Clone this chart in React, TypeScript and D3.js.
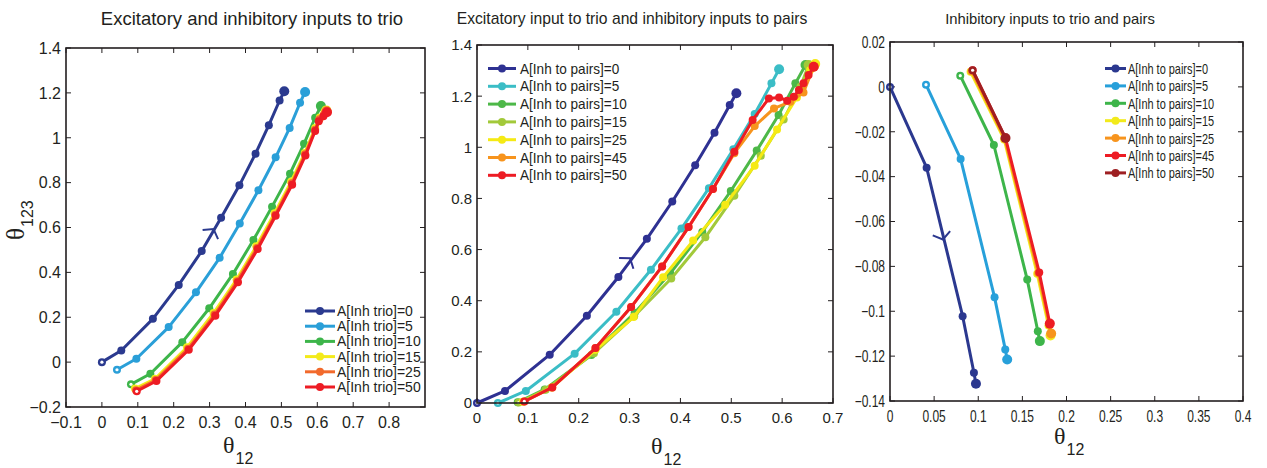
import React from 'react';
import * as d3 from 'd3';

type Pt = [number, number];

// ---------- Panel 1: Excitatory and inhibitory inputs to trio ----------
const p1Inh0: Pt[] = [[0, 0], [0.054, 0.052], [0.142, 0.193], [0.214, 0.344], [0.278, 0.495], [0.332, 0.643], [0.383, 0.788], [0.428, 0.929], [0.465, 1.056], [0.495, 1.166], [0.508, 1.207]];
const p1Inh5: Pt[] = [[0.042, -0.034], [0.096, 0.015], [0.186, 0.156], [0.262, 0.311], [0.328, 0.465], [0.384, 0.618], [0.436, 0.766], [0.484, 0.913], [0.523, 1.044], [0.552, 1.156], [0.566, 1.204]];
const p1Inh10: Pt[] = [[0.081, -0.099], [0.135, -0.052], [0.224, 0.089], [0.299, 0.24], [0.365, 0.393], [0.422, 0.544], [0.474, 0.693], [0.524, 0.84], [0.563, 0.973], [0.594, 1.089], [0.61, 1.141]];
const p1Inh15: Pt[] = [[0.092, -0.118], [0.148, -0.074], [0.237, 0.066], [0.311, 0.219], [0.375, 0.368], [0.43, 0.516], [0.481, 0.664], [0.527, 0.804], [0.565, 0.932], [0.594, 1.044], [0.607, 1.09], [0.62, 1.115], [0.625, 1.122]];
const p1Inh25: Pt[] = [[0.095, -0.125], [0.15, -0.08], [0.24, 0.06], [0.314, 0.212], [0.377, 0.361], [0.432, 0.509], [0.483, 0.657], [0.529, 0.797], [0.566, 0.926], [0.594, 1.036], [0.606, 1.082], [0.619, 1.105], [0.626, 1.118]];
const p1Inh50: Pt[] = [[0.097, -0.13], [0.152, -0.084], [0.242, 0.055], [0.316, 0.207], [0.379, 0.356], [0.434, 0.504], [0.484, 0.652], [0.53, 0.791], [0.567, 0.921], [0.594, 1.03], [0.604, 1.074], [0.617, 1.096], [0.627, 1.114]];
const p1Labels = ['A[Inh trio]=0', 'A[Inh trio]=5', 'A[Inh trio]=10', 'A[Inh trio]=15', 'A[Inh trio]=25', 'A[Inh trio]=50'];
const p1Colors = ['#2b3a8f', '#2a9fd8', '#3db54a', '#f3ea1a', '#f26a2c', '#ed1c24'];
const p1XTicks = [-0.1, 0, 0.1, 0.2, 0.3, 0.4, 0.5, 0.6, 0.7, 0.8];
const p1YTicks = [-0.2, 0, 0.2, 0.4, 0.6, 0.8, 1, 1.2, 1.4];
const p1Arrow: Pt = [0.311, 0.593];

// ---------- Panel 2: Excitatory input to trio and inhibitory inputs to pairs ----------
const p2Inh0: Pt[] = [[0, 0], [0.055, 0.047], [0.143, 0.189], [0.216, 0.341], [0.278, 0.493], [0.334, 0.642], [0.384, 0.788], [0.429, 0.93], [0.467, 1.057], [0.497, 1.165], [0.51, 1.211]];
const p2Inh5: Pt[] = [[0.041, 0], [0.096, 0.047], [0.192, 0.193], [0.274, 0.357], [0.342, 0.521], [0.402, 0.682], [0.456, 0.84], [0.504, 0.992], [0.546, 1.13], [0.579, 1.25], [0.594, 1.305]];
const p2Inh10: Pt[] = [[0.08, 0.003], [0.133, 0.053], [0.225, 0.188], [0.31, 0.353], [0.38, 0.507], [0.443, 0.669], [0.499, 0.829], [0.55, 0.987], [0.593, 1.126], [0.626, 1.25], [0.646, 1.322]];
const p2Inh15: Pt[] = [[0.082, 0.002], [0.135, 0.052], [0.23, 0.195], [0.309, 0.339], [0.382, 0.487], [0.449, 0.648], [0.506, 0.81], [0.558, 0.967], [0.603, 1.109], [0.636, 1.237], [0.652, 1.322]];
const p2Inh25: Pt[] = [[0.09, 0.005], [0.147, 0.061], [0.233, 0.208], [0.308, 0.336], [0.366, 0.492], [0.425, 0.635], [0.488, 0.775], [0.546, 0.928], [0.59, 1.07], [0.629, 1.195], [0.655, 1.302], [0.665, 1.326]];
const p2Inh45: Pt[] = [[0.093, 0.006], [0.148, 0.061], [0.233, 0.215], [0.303, 0.375], [0.364, 0.534], [0.416, 0.688], [0.464, 0.837], [0.506, 0.977], [0.546, 1.083], [0.584, 1.152], [0.616, 1.178], [0.642, 1.214], [0.662, 1.315]];
const p2Inh50: Pt[] = [[0.093, 0.006], [0.148, 0.061], [0.233, 0.215], [0.303, 0.375], [0.364, 0.534], [0.416, 0.688], [0.464, 0.837], [0.506, 0.983], [0.542, 1.107], [0.574, 1.191], [0.594, 1.195], [0.61, 1.182], [0.623, 1.198], [0.633, 1.224], [0.642, 1.25], [0.652, 1.283], [0.662, 1.315]];
const p2Labels = ['A[Inh to pairs]=0', 'A[Inh to pairs]=5', 'A[Inh to pairs]=10', 'A[Inh to pairs]=15', 'A[Inh to pairs]=25', 'A[Inh to pairs]=45', 'A[Inh to pairs]=50'];
const p2Colors = ['#2e3192', '#3bbdc6', '#4db848', '#a2c93a', '#f5ea14', '#f7941d', '#ed1c24'];
const p2XTicks = [0, 0.1, 0.2, 0.3, 0.4, 0.5, 0.6, 0.7];
const p2YTicks = [0, 0.2, 0.4, 0.6, 0.8, 1, 1.2, 1.4];
const p2Arrow: Pt = [0.301, 0.566];

// ---------- Panel 3: Inhibitory inputs to trio and pairs ----------
const p3Inh0: Pt[] = [[0, 0], [0.0415, -0.036], [0.0823, -0.1022], [0.0951, -0.1274], [0.0974, -0.1323]];
const p3Inh5: Pt[] = [[0.0408, 0.001], [0.08, -0.0321], [0.1185, -0.0938], [0.1306, -0.117], [0.1328, -0.1215]];
const p3Inh10: Pt[] = [[0.0796, 0.005], [0.1177, -0.0259], [0.1555, -0.0859], [0.1675, -0.1089], [0.1698, -0.1133]];
const p3Inh15: Pt[] = [[0.0913, 0.0067], [0.1294, -0.0234], [0.1668, -0.0833], [0.1796, -0.1064], [0.1819, -0.1108]];
const p3Inh25: Pt[] = [[0.0925, 0.007], [0.13, -0.0231], [0.168, -0.083], [0.1805, -0.106], [0.1826, -0.1099]];
const p3Inh45: Pt[] = [[0.0936, 0.0074], [0.1309, -0.0228], [0.1691, -0.0827], [0.1811, -0.1055]];
const p3Inh50: Pt[] = [[0.0936, 0.0074], [0.1309, -0.0228]];
const p3Labels = ['A[Inh to pairs]=0', 'A[Inh to pairs]=5', 'A[Inh to pairs]=10', 'A[Inh to pairs]=15', 'A[Inh to pairs]=25', 'A[Inh to pairs]=45', 'A[Inh to pairs]=50'];
const p3Colors = ['#2b388f', '#27a0da', '#3db54a', '#f2ea1b', '#f7941d', '#ed1c24', '#9e1f22'];
const p3XTicks = [0, 0.05, 0.1, 0.15, 0.2, 0.25, 0.3, 0.35, 0.4];
const p3YTicks = [-0.14, -0.12, -0.1, -0.08, -0.06, -0.04, -0.02, 0, 0.02];
const p3Arrow: Pt = [0.06, -0.068];

const FONT = "'Liberation Sans', Arial, Helvetica, sans-serif";
const SERIF = "'Liberation Serif', 'Times New Roman', serif";

const fmt = (v: number) => {
  const s = String(+v.toFixed(3));
  return s.startsWith('-') ? '\u2212' + s.slice(1) : s;
};

interface PanelCfg {
  left: number; top: number; right: number; bottom: number;
  xDomain: [number, number]; yDomain: [number, number];
  xTicks: number[]; yTicks: number[];
  series: Pt[][]; colors: string[]; labels: string[];
  title: string; titleX: number; titleY: number; titleSize: number;
  xLabelX: number; xLabelY: number;
  yLabel?: boolean;
  legend: { lineX0: number; lineX1: number; textX: number; y0: number; dy: number; size: number; squeeze: number };
  tickSqueeze: number;
  tickSize: number;
  arrow: Pt; arrowSeriesIdx: number;
}

const SText: React.FC<{ x: number; y: number; sq: number; size: number; anchor?: string; children: any }> = ({ x, y, sq, size, anchor, children }) => (
  <text transform={`translate(${x},${y}) scale(${sq},1)`} fontSize={size} fontFamily={FONT} textAnchor={anchor || 'start'} fill="#231f20">{children}</text>
);

function Panel({ c }: { c: PanelCfg }) {
  const xs = d3.scaleLinear().domain(c.xDomain).range([c.left, c.right]);
  const ys = d3.scaleLinear().domain(c.yDomain).range([c.bottom, c.top]);
  const line = d3.line<Pt>().x(d => xs(d[0])).y(d => ys(d[1]));
  const tl = 5;

  const s = c.series[c.arrowSeriesIdx];
  let best = 0; let bd = Infinity;
  for (let i = 0; i < s.length - 1; i++) {
    const mx = (xs(s[i][0]) + xs(s[i + 1][0])) / 2, my = (ys(s[i][1]) + ys(s[i + 1][1])) / 2;
    const d = Math.hypot(mx - xs(c.arrow[0]), my - ys(c.arrow[1]));
    if (d < bd) { bd = d; best = i; }
  }
  const dx = xs(s[best + 1][0]) - xs(s[best][0]);
  const dy = ys(s[best + 1][1]) - ys(s[best][1]);
  const ang = Math.atan2(dy, dx);
  const ax = xs(c.arrow[0]), ay = ys(c.arrow[1]);
  const L = 11, spread = 0.95;
  const a1 = [ax - L * Math.cos(ang - spread), ay - L * Math.sin(ang - spread)];
  const a2 = [ax - L * Math.cos(ang + spread), ay - L * Math.sin(ang + spread)];

  const lg = c.legend;
  return (
    <g>
      <text x={c.titleX} y={c.titleY} fontSize={c.titleSize} fontFamily={FONT} textAnchor="middle" fill="#231f20">{c.title}</text>
      <rect x={c.left} y={c.top} width={c.right - c.left} height={c.bottom - c.top} fill="white" stroke="none" />
      {c.xTicks.map((t, i) => (
        <g key={'xt' + i}>
          <line x1={xs(t)} x2={xs(t)} y1={c.bottom} y2={c.bottom - tl} stroke="#231f20" strokeWidth={1} />
          <line x1={xs(t)} x2={xs(t)} y1={c.top} y2={c.top + tl} stroke="#231f20" strokeWidth={1} />
          <SText x={xs(t)} y={c.bottom + 5 + c.tickSize} sq={c.tickSqueeze} size={c.tickSize} anchor="middle">{fmt(t)}</SText>
        </g>
      ))}
      {c.yTicks.map((t, i) => (
        <g key={'yt' + i}>
          <line x1={c.left} x2={c.left + tl} y1={ys(t)} y2={ys(t)} stroke="#231f20" strokeWidth={1} />
          <line x1={c.right} x2={c.right - tl} y1={ys(t)} y2={ys(t)} stroke="#231f20" strokeWidth={1} />
          <SText x={c.left - 5} y={ys(t) + c.tickSize * 0.36} sq={c.tickSqueeze} size={c.tickSize} anchor="end">{fmt(t)}</SText>
        </g>
      ))}
      {c.series.map((pts, i) => (
        <g key={'s' + i}>
          <path d={line(pts) || ''} fill="none" stroke={c.colors[i]} strokeWidth={3} strokeLinejoin="round" strokeLinecap="round" />
          {pts.map((p, j) => (
            <circle key={j} cx={xs(p[0])} cy={ys(p[1])} r={j === pts.length - 1 ? 5 : 4} fill={c.colors[i]} />
          ))}
          <circle cx={xs(pts[0][0])} cy={ys(pts[0][1])} r={1.6} fill="white" />
        </g>
      ))}
      <polyline points={`${a1[0]},${a1[1]} ${ax},${ay} ${a2[0]},${a2[1]}`} fill="none" stroke={c.colors[c.arrowSeriesIdx]} strokeWidth={2} />
      <rect x={c.left} y={c.top} width={c.right - c.left} height={c.bottom - c.top} fill="none" stroke="#231f20" strokeWidth={1.6} />
      {c.labels.map((lab, i) => {
        const y = lg.y0 + i * lg.dy;
        return (
          <g key={'lg' + i}>
            <line x1={lg.lineX0} x2={lg.lineX1} y1={y} y2={y} stroke={c.colors[i]} strokeWidth={3} />
            <circle cx={(lg.lineX0 + lg.lineX1) / 2} cy={y} r={4} fill={c.colors[i]} />
            <SText x={lg.textX} y={y + lg.size * 0.36} sq={lg.squeeze} size={lg.size}>{lab}</SText>
          </g>
        );
      })}
      <text x={c.xLabelX} y={c.xLabelY} fontSize={24} fontFamily={SERIF} fill="#231f20">θ<tspan fontSize={16} fontFamily={FONT} dy={11} dx={1}>12</tspan></text>
      {c.yLabel && (
        <text transform={`translate(${24},${240}) rotate(-90)`} fontSize={25} fontFamily={SERIF} fill="#231f20">θ<tspan fontSize={16} fontFamily={FONT} dy={9} dx={1}>123</tspan></text>
      )}
    </g>
  );
}

const panels: PanelCfg[] = [
  {
    left: 66, top: 48, right: 425, bottom: 407,
    xDomain: [-0.1, 0.9], yDomain: [-0.2, 1.4], xTicks: p1XTicks, yTicks: p1YTicks,
    series: [p1Inh0, p1Inh5, p1Inh10, p1Inh15, p1Inh25, p1Inh50], colors: p1Colors, labels: p1Labels,
    title: 'Excitatory and inhibitory inputs to trio', titleX: 252, titleY: 25, titleSize: 18.5,
    xLabelX: 223, xLabelY: 453, yLabel: true,
    legend: { lineX0: 305, lineX1: 335, textX: 337, y0: 311, dy: 15.2, size: 14, squeeze: 1 },
    tickSqueeze: 1, tickSize: 16,
    arrow: p1Arrow, arrowSeriesIdx: 0,
  },
  {
    left: 477, top: 45, right: 833, bottom: 403,
    xDomain: [0, 0.7], yDomain: [0, 1.4], xTicks: p2XTicks, yTicks: p2YTicks,
    series: [p2Inh0, p2Inh5, p2Inh10, p2Inh15, p2Inh25, p2Inh45, p2Inh50], colors: p2Colors, labels: p2Labels,
    title: 'Excitatory input to trio and inhibitory inputs to pairs', titleX: 632, titleY: 24, titleSize: 15.7,
    xLabelX: 651, xLabelY: 454,
    legend: { lineX0: 488, lineX1: 516, textX: 520, y0: 68.5, dy: 17.8, size: 14, squeeze: 0.97 },
    tickSqueeze: 1, tickSize: 15,
    arrow: p2Arrow, arrowSeriesIdx: 0,
  },
  {
    left: 890, top: 42, right: 1243, bottom: 401,
    xDomain: [0, 0.4], yDomain: [-0.14, 0.02], xTicks: p3XTicks, yTicks: p3YTicks,
    series: [p3Inh0, p3Inh5, p3Inh10, p3Inh15, p3Inh25, p3Inh45, p3Inh50], colors: p3Colors, labels: p3Labels,
    title: 'Inhibitory inputs to trio and pairs', titleX: 1050, titleY: 24, titleSize: 14.8,
    xLabelX: 1054, xLabelY: 444,
    legend: { lineX0: 1105, lineX1: 1126, textX: 1128, y0: 68.5, dy: 17.4, size: 15, squeeze: 0.73 },
    tickSqueeze: 0.75, tickSize: 16,
    arrow: p3Arrow, arrowSeriesIdx: 0,
  },
];

export default function App() {
  return (
    <svg width={1267} height={468} style={{ position: 'absolute', left: 0, top: 0, background: 'white' }}>
      <rect width={1267} height={468} fill="white" />
      {panels.map((c, i) => <Panel key={i} c={c} />)}
    </svg>
  );
}
